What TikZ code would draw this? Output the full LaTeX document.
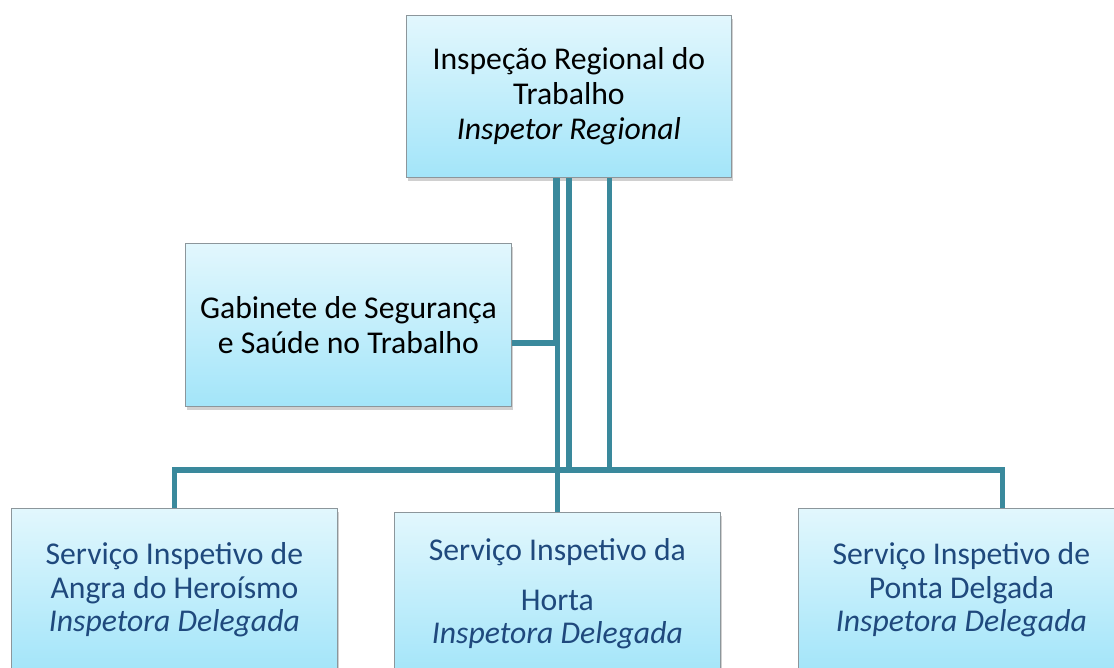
\documentclass[tikz,border=0pt]{standalone}
\usepackage{fontspec}
\setmainfont{Carlito}
\usetikzlibrary{shadows,calc}
\definecolor{conncol}{RGB}{58,137,156}
\definecolor{boxtop}{RGB}{226,247,253}
\definecolor{boxbot}{RGB}{163,229,249}
\definecolor{boxline}{RGB}{140,150,155}
\definecolor{subtext}{RGB}{31,73,125}
\tikzset{
  orgbox/.style={draw=boxline, line width=0.8pt, top color=boxtop, bottom color=boxbot,
    minimum width=326pt, minimum height=163pt, inner sep=0pt, anchor=north west,
    align=center, font=\fontsize{31.7}{35}\selectfont,
    drop shadow={shadow xshift=1.5pt, shadow yshift=-3.5pt, opacity=0.3, fill=black!60}},
  subbox/.style={orgbox, text=subtext, font=\fontsize{31.7}{33.5}\selectfont},
  conn/.style={draw=conncol, line width=5.5pt}
}
\begin{document}
\begin{tikzpicture}[x=1pt,y=-1pt]
\useasboundingbox (0,0) rectangle (1114,668);
\clip (0,0) rectangle (1114,668);
\fill[white] (0,0) rectangle (1114,668);
\coordinate (bar) at (0,470);
\node[orgbox, minimum width=325pt, minimum height=162pt] (top) at (406,15) {Inspeção Regional do\\Trabalho\\\textit{Inspetor Regional}};
\node[orgbox] (gab) at (185,243) {Gabinete de Segurança\\e Saúde no Trabalho};
\node[subbox] (ang) at (11,508) {Serviço Inspetivo de\\Angra do Heroísmo\\\textit{Inspetora Delegada}};
\node[subbox] (hor) at (394,512) {Serviço Inspetivo da\\[16pt]Horta\\\textit{Inspetora Delegada}};
\node[subbox] (pon) at (798,508) {Serviço Inspetivo de\\Ponta Delgada\\\textit{Inspetora Delegada}};
% connectors
\draw[conn] ([xshift=-2pt]top.south -| hor.north) |- ([yshift=-18pt]gab.east);
\draw[conn] (top.south -| hor.north) -- (hor.north);
\draw[conn] (top.south) -- (top.south |- bar);
\draw[conn] ([xshift=40.5pt]top.south) -- ([xshift=40.5pt]top.south |- bar);
\draw[conn] (ang.north) -- (ang.north |- bar) -- ([xshift=41pt]pon.north |- bar) -- ([xshift=41pt]pon.north);
\end{tikzpicture}
\end{document}
